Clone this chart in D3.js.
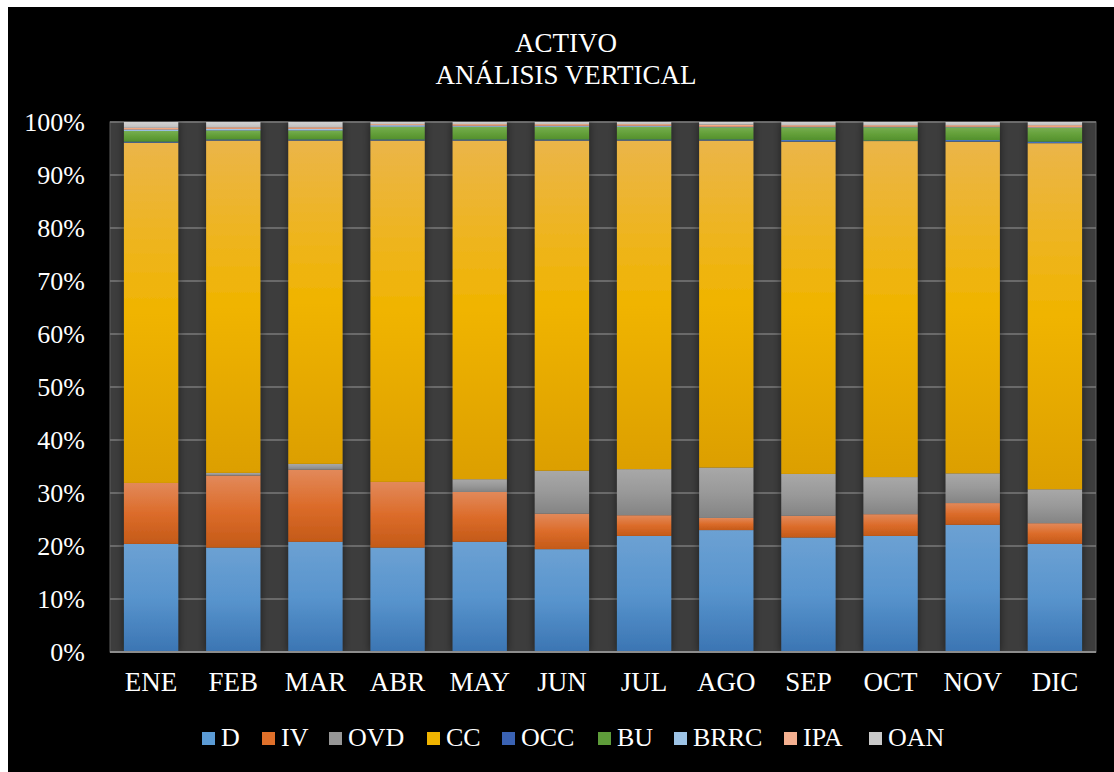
<!DOCTYPE html>
<html>
<head>
<meta charset="utf-8">
<script src="https://cdn.jsdelivr.net/npm/d3@7"></script>
<style>
  body { margin: 0; background: #fff; }
  text { font-family: "Liberation Serif", "Times New Roman", serif; fill: #fff; }
</style>
</head>
<body>
<div id="chart"></div>
<script>
// months and series
const months = ["ENE", "FEB", "MAR", "ABR", "MAY", "JUN", "JUL", "AGO", "SEP", "OCT", "NOV", "DIC"];
const seriesNames = ["D", "IV", "OVD", "CC", "OCC", "BU", "BRRC", "IPA", "OAN"];

// percentages
const D    = [20.4, 19.7, 20.8, 19.7, 20.8, 19.4, 21.9, 23.0, 21.6, 21.9, 24.0, 20.4];
const IV   = [11.5, 13.6, 13.6, 12.4, 9.4, 6.7, 3.9, 2.3, 4.1, 4.1, 4.1, 3.9];
const OVD  = [0.0, 0.5, 1.1, 0.0, 2.4, 8.1, 8.7, 9.5, 7.9, 7.0, 5.6, 6.4];
const CC   = [64.2, 62.7, 61.0, 64.4, 63.9, 62.3, 62.0, 61.7, 62.7, 63.4, 62.6, 65.3];
const OCC  = [0.2, 0.2, 0.2, 0.2, 0.2, 0.2, 0.2, 0.2, 0.3, 0.1, 0.3, 0.3];
const BU   = [2.0, 1.7, 1.7, 2.4, 2.4, 2.4, 2.4, 2.3, 2.4, 2.5, 2.4, 2.6];
const BRRC = [0.3, 0.3, 0.3, 0.3, 0.2, 0.2, 0.2, 0.1, 0.1, 0.1, 0.1, 0.1];
const IPA  = [0.3, 0.3, 0.3, 0.2, 0.3, 0.3, 0.3, 0.4, 0.3, 0.3, 0.3, 0.4];
const OAN  = [1.1, 1.0, 1.0, 0.4, 0.4, 0.4, 0.4, 0.5, 0.6, 0.6, 0.6, 0.6];

const yTicks = [0, 0.1, 0.2, 0.3, 0.4, 0.5, 0.6, 0.7, 0.8, 0.9, 1];

// gradient colors per series (top, middle, bottom)
const colors = {
  D:    ["#6ca1d3", "#5894cd", "#3b75b3"],
  IV:   ["#e2895a", "#dc6c2a", "#c45a18"],
  OVD:  ["#a8a8a8", "#999999", "#848484"],
  CC:   ["#ebb549", "#f0b400", "#dc9f00"],
  OCC:  ["#4a78c8", "#4472c4", "#2f5597"],
  BU:   ["#76ae50", "#64a03a", "#53902c"],
  BRRC: ["#a8cbea", "#9dc3e6", "#8bb4da"],
  IPA:  ["#f5b590", "#f4a47c", "#ee9670"],
  OAN:  ["#d2d2d2", "#c9c9c9", "#bcbcbc"]
};
const legendSwatch = {
  D: "#5b9bd5", IV: "#e0702a", OVD: "#969696", CC: "#f0b400", OCC: "#3a62b3",
  BU: "#5e9c3a", BRRC: "#9dc3e6", IPA: "#f4b090", OAN: "#c9c9c9"
};

const valuesBySeries = { D, IV, OVD, CC, OCC, BU, BRRC, IPA, OAN };
const table = months.map((m, i) => {
  const row = { month: m };
  seriesNames.forEach(s => row[s] = valuesBySeries[s][i]);
  return row;
});

const W = 1114, H = 772;
const plot = { left: 110, top: 122, right: 1096, bottom: 652 };

let svg = d3.select("#chart").append("svg")
  .attr("width", W)
  .attr("height", H);

// black chart background with white strip on top/left
svg.append("rect").attr("width", W).attr("height", H).attr("fill", "#fff");
svg.append("rect").attr("x", 8).attr("y", 7).attr("width", W - 8).attr("height", H - 7).attr("fill", "#000");

let defs = svg.append("defs");
seriesNames.forEach(s => {
  let g = defs.append("linearGradient").attr("id", "grad-" + s)
    .attr("x1", 0).attr("y1", 0).attr("x2", 0).attr("y2", 1);
  g.append("stop").attr("offset", "0%").attr("stop-color", colors[s][0]);
  g.append("stop").attr("offset", "50%").attr("stop-color", colors[s][1]);
  g.append("stop").attr("offset", "100%").attr("stop-color", colors[s][2]);
});
defs.append("filter").attr("id", "shadow")
  .attr("x", "-30%").attr("y", "-5%").attr("width", "160%").attr("height", "110%")
  .append("feDropShadow")
  .attr("dx", 0).attr("dy", 0).attr("stdDeviation", 4)
  .attr("flood-color", "#000").attr("flood-opacity", 0.55);

const x = d3.scaleBand().domain(months).range([plot.left, plot.right]).paddingInner(0.34).paddingOuter(0.17);
const y = d3.scaleLinear().domain([0, 1]).range([plot.bottom, plot.top]);

// plot area
svg.append("rect")
  .attr("x", plot.left).attr("y", plot.top)
  .attr("width", plot.right - plot.left).attr("height", plot.bottom - plot.top)
  .attr("fill", "#3d3d3d").attr("stroke", "#5c5c5c").attr("stroke-width", 1);

// gridlines
svg.append("g")
  .selectAll("line")
  .data(yTicks)
  .join("line")
  .attr("x1", plot.left).attr("x2", plot.right)
  .attr("y1", d => y(d)).attr("y2", d => y(d))
  .attr("stroke", d => d === 0 ? "#8c8c8c" : "#7a7a7a")
  .attr("stroke-width", d => d === 0 ? 2 : 1.5);

// stacked bars
const stacked = d3.stack().keys(seriesNames).offset(d3.stackOffsetExpand)(table);

let cols = svg.append("g")
  .selectAll("g")
  .data(months)
  .join("g")
  .attr("filter", "url(#shadow)");

cols.selectAll("rect")
  .data((m, i) => stacked.map(layer => ({ key: layer.key, y0: layer[i][0], y1: layer[i][1], month: m })))
  .join("rect")
  .attr("x", d => x(d.month))
  .attr("width", x.bandwidth())
  .attr("y", d => y(d.y1))
  .attr("height", d => Math.max(0, y(d.y0) - y(d.y1)))
  .attr("fill", d => "url(#grad-" + d.key + ")");

// redraw baseline over bars
svg.append("line")
  .attr("x1", plot.left).attr("x2", plot.right)
  .attr("y1", y(0)).attr("y2", y(0))
  .attr("stroke", "#8c8c8c").attr("stroke-width", 2);

// axes
let yAxis = svg.append("g")
  .attr("transform", `translate(${plot.left},0)`)
  .call(d3.axisLeft(y).tickValues(yTicks).tickFormat(d3.format(".0%")).tickSize(0).tickPadding(25));
yAxis.select(".domain").remove();
yAxis.selectAll("text").attr("font-size", 26).attr("fill", "#fff");

let xAxis = svg.append("g")
  .attr("transform", `translate(0,${plot.bottom})`)
  .call(d3.axisBottom(x).tickSize(0).tickPadding(20));
xAxis.select(".domain").remove();
xAxis.selectAll("text").attr("font-size", 27).attr("fill", "#fff");

// title
let title = svg.append("text")
  .attr("x", 566).attr("y", 52)
  .attr("text-anchor", "middle")
  .attr("font-size", 27);
title.append("tspan").attr("x", 566).text("ACTIVO");
title.append("tspan").attr("x", 566).attr("dy", 31.5).text("ANÁLISIS VERTICAL");

// legend
const legendX = [202, 262, 329, 427, 502, 598, 674, 784, 869];
let legend = svg.append("g")
  .selectAll("g")
  .data(seriesNames)
  .join("g")
  .attr("transform", (d, i) => `translate(${legendX[i]},732)`);
legend.append("rect")
  .attr("width", 13).attr("height", 13)
  .attr("fill", d => legendSwatch[d]);
legend.append("text")
  .attr("x", 19).attr("y", 14)
  .attr("font-size", 26)
  .text(d => d);
</script>
</body>
</html>
